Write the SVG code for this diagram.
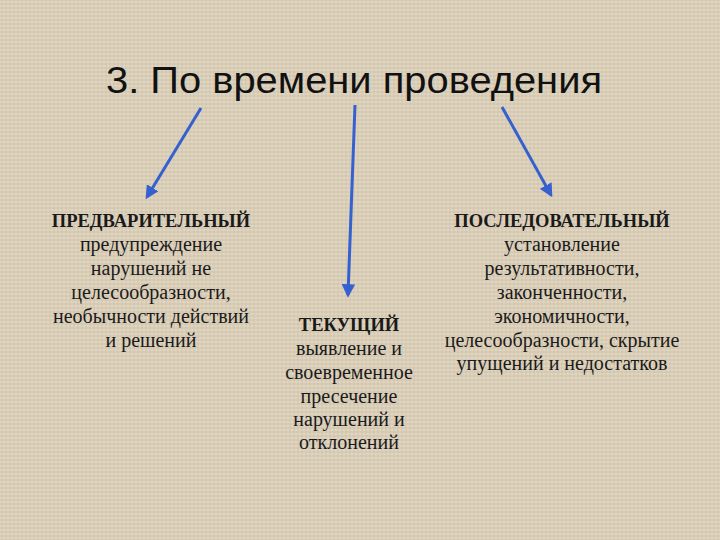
<svg xmlns="http://www.w3.org/2000/svg" width="720" height="540" viewBox="0 0 720 540">
<defs>
<pattern id="tex" width="8" height="8" patternUnits="userSpaceOnUse">
<rect width="8" height="8" fill="#d8ccb6"/>
<path d="M0 2h8M0 6h8" stroke="#e8dfcd" stroke-width="1"/>
<path d="M2 0v8M6 0v8" stroke="#c9bca5" stroke-width="0.6"/>
</pattern>
<marker id="ah" viewBox="0 0 10 10" refX="8" refY="5" markerWidth="4.5" markerHeight="4.5" orient="auto">
<path d="M0 0L10 5L0 10z" fill="#3560d0"/>
</marker>
<style>
.t{font-family:"Liberation Serif","Times New Roman",serif;font-size:20px;fill:#1a1a1a;text-anchor:middle}
.b{font-weight:bold;font-size:18.5px}
.c{stroke:#3560d0;stroke-width:3;fill:none;marker-end:url(#ah)}
</style>
</defs>
<rect width="720" height="540" fill="url(#tex)"/>
<g id="title">
<text x="106" y="93" font-family="Liberation Sans, Arial, sans-serif" font-size="36" fill="#111" textLength="496" lengthAdjust="spacingAndGlyphs">3. По времени проведения</text>
</g>
<g id="connectors">
<line class="c" x1="201" y1="108" x2="147" y2="197"/>
<line class="c" x1="355" y1="105" x2="348" y2="295"/>
<line class="c" x1="502" y1="107" x2="551" y2="195"/>
</g>
<g id="left">
<text class="t b" x="151" y="227">ПРЕДВАРИТЕЛЬНЫЙ</text>
<text class="t" x="151" y="251">предупреждение</text>
<text class="t" x="151" y="275">нарушений не</text>
<text class="t" x="151" y="299">целесообразности,</text>
<text class="t" x="151" y="323">необычности действий</text>
<text class="t" x="151" y="347">и решений</text>
</g>
<g id="middle">
<text class="t b" x="349" y="331">ТЕКУЩИЙ</text>
<text class="t" x="349" y="355">выявление и</text>
<text class="t" x="349" y="379">своевременное</text>
<text class="t" x="349" y="403">пресечение</text>
<text class="t" x="349" y="426">нарушений и</text>
<text class="t" x="349" y="449">отклонений</text>
</g>
<g id="right">
<text class="t b" x="562" y="227">ПОСЛЕДОВАТЕЛЬНЫЙ</text>
<text class="t" x="562" y="251">установление</text>
<text class="t" x="562" y="275">результативности,</text>
<text class="t" x="562" y="299">законченности,</text>
<text class="t" x="562" y="323">экономичности,</text>
<text class="t" x="562" y="347">целесообразности, скрытие</text>
<text class="t" x="562" y="370">упущений и недостатков</text>
</g>
</svg>
